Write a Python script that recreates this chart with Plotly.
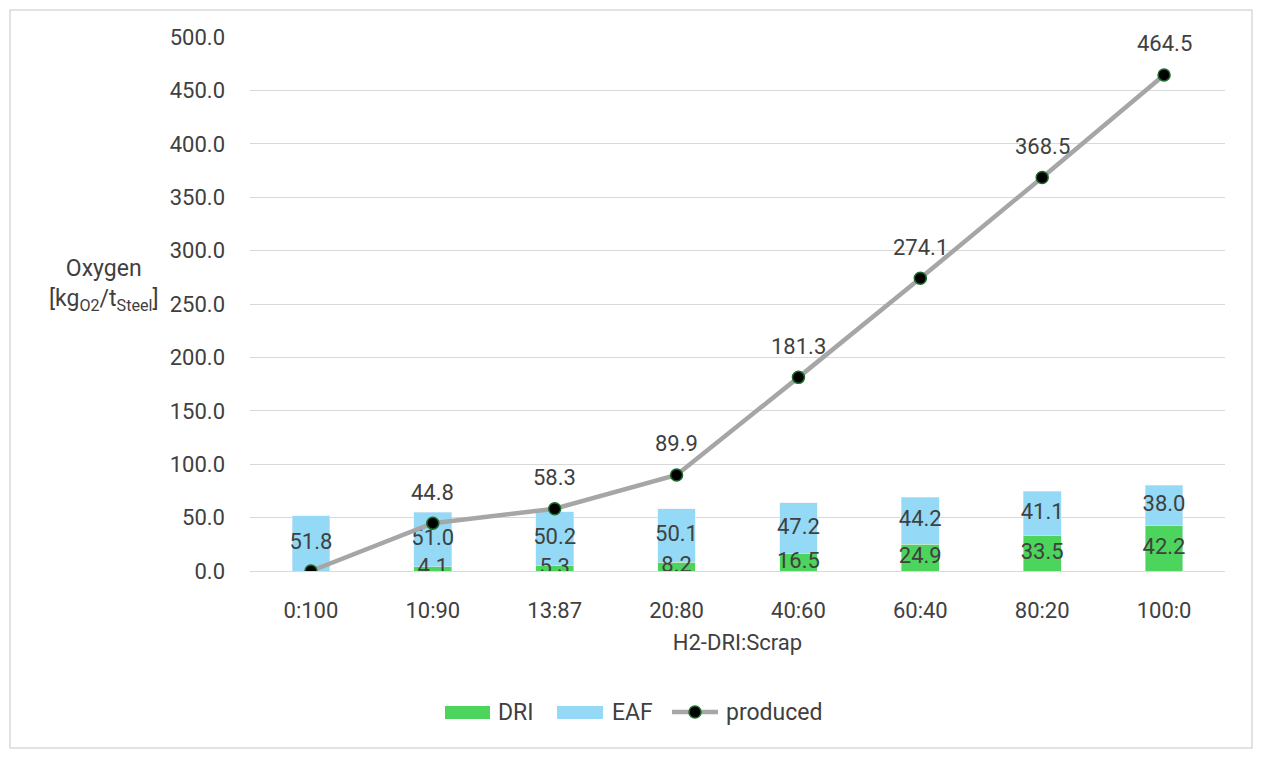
import plotly.graph_objects as go

categories = ["0:100", "10:90", "13:87", "20:80", "40:60", "60:40", "80:20", "100:0"]
dri = [0.0, 4.1, 5.3, 8.2, 16.5, 24.9, 33.5, 42.2]
eaf = [51.8, 51.0, 50.2, 50.1, 47.2, 44.2, 41.1, 38.0]
produced = [0.0, 44.8, 58.3, 89.9, 181.3, 274.1, 368.5, 464.5]
y_ticks = [0, 50, 100, 150, 200, 250, 300, 350, 400, 450, 500]
legend_names = ["DRI", "EAF", "produced"]

FONT = "Roboto"
TXT = "#404040"
GREEN = "#4CD45C"
BLUE = "#94D9F5"
LINE = "#A6A6A6"
LBL = 22

# plot area in pixels: x 250..1225, y 37..571
L, R, T, B = 250, 1225, 37, 571
def px(x):
    return (x - L) / (R - L)
def py(y):
    return (B - y) / (B - T)

fig = go.Figure()
fig.add_trace(go.Bar(x=categories, y=dri, name="DRI", marker_color=GREEN, showlegend=False))
fig.add_trace(go.Bar(x=categories, y=eaf, name="EAF", marker_color=BLUE, showlegend=False))

# centred segment labels
dri_x = [c for c, d in zip(categories, dri) if d > 0]
dri_y = [d / 2 for d in dri if d > 0]
dri_t = [f"{d:.1f}" for d in dri if d > 0]
fig.add_trace(go.Scatter(x=dri_x, y=dri_y, mode="text", text=dri_t,
                         textfont=dict(size=LBL, color=TXT, family=FONT),
                         showlegend=False, hoverinfo="skip"))
fig.add_trace(go.Scatter(x=categories, y=[d + e / 2 for d, e in zip(dri, eaf)], mode="text",
                         text=[f"{e:.1f}" for e in eaf],
                         textfont=dict(size=LBL, color=TXT, family=FONT),
                         showlegend=False, hoverinfo="skip"))

fig.add_trace(go.Scatter(x=categories, y=produced, name="produced", mode="lines+markers",
                         line=dict(color=LINE, width=4.5),
                         marker=dict(color="black", size=12, line=dict(color="#1E6A2E", width=1.5)),
                         showlegend=False))

annotations = []
for c, p in zip(categories, produced):
    if p > 0:
        annotations.append(dict(x=c, y=p, xref="x", yref="y", text=f"{p:.1f}", showarrow=False,
                                yshift=31, xanchor="center", yanchor="middle",
                                font=dict(size=LBL, color=TXT, family=FONT)))

# y axis title
annotations.append(dict(xref="paper", yref="paper", x=px(104), y=py(285), xanchor="center", yanchor="middle",
                        text="Oxygen<br>[kg<sub>O2</sub>/t<sub>Steel</sub>]", showarrow=False,
                        font=dict(size=23, color=TXT, family=FONT), align="center"))

# custom legend
legend_y = py(712)
shapes = [dict(type="rect", xref="paper", yref="paper",
               x0=px(10), x1=px(1252), y0=py(748), y1=py(10),
               line=dict(color="#D9D9D9", width=1.5), fillcolor="rgba(0,0,0,0)", layer="below")]
shapes.append(dict(type="rect", xref="paper", yref="paper", x0=px(445), x1=px(490),
                   y0=py(719), y1=py(706), fillcolor=GREEN, line=dict(width=0)))
shapes.append(dict(type="rect", xref="paper", yref="paper", x0=px(557), x1=px(603),
                   y0=py(719), y1=py(706), fillcolor=BLUE, line=dict(width=0)))
shapes.append(dict(type="line", xref="paper", yref="paper", x0=px(672), x1=px(718),
                   y0=legend_y, y1=legend_y, line=dict(color=LINE, width=4.5)))
shapes.append(dict(type="circle", xref="paper", yref="paper", x0=px(689), x1=px(701),
                   y0=py(718), y1=py(706), fillcolor="black", line=dict(color="#1E6A2E", width=1.5)))
for name, lx in zip(legend_names, [496, 610, 724]):
    annotations.append(dict(xref="paper", yref="paper", x=px(lx), y=legend_y, xanchor="left",
                            yanchor="middle", text=name, showarrow=False,
                            font=dict(size=23, color=TXT, family=FONT)))

fig.update_layout(
    barmode="stack",
    bargap=0.69,
    width=1261, height=759,
    margin=dict(l=L, r=1261 - R, t=T, b=759 - B),
    paper_bgcolor="white", plot_bgcolor="white",
    font=dict(family=FONT, color=TXT, size=20),
    showlegend=False,
    xaxis=dict(title=dict(text="H2-DRI:Scrap", font=dict(size=22, color=TXT), standoff=12),
               tickfont=dict(size=LBL, color=TXT), showgrid=False,
               showline=True, linecolor="#D9D9D9", linewidth=1, ticks="", ticklabelstandoff=20),
    yaxis=dict(range=[0, 500], tickvals=y_ticks, tickformat=".1f",
               tickfont=dict(size=LBL, color=TXT), showgrid=True, gridcolor="#D9D9D9",
               gridwidth=1, zeroline=False, showline=False, ticks="", ticklabelstandoff=24),
    shapes=shapes,
    annotations=annotations,
)

fig.write_html("out.html")
